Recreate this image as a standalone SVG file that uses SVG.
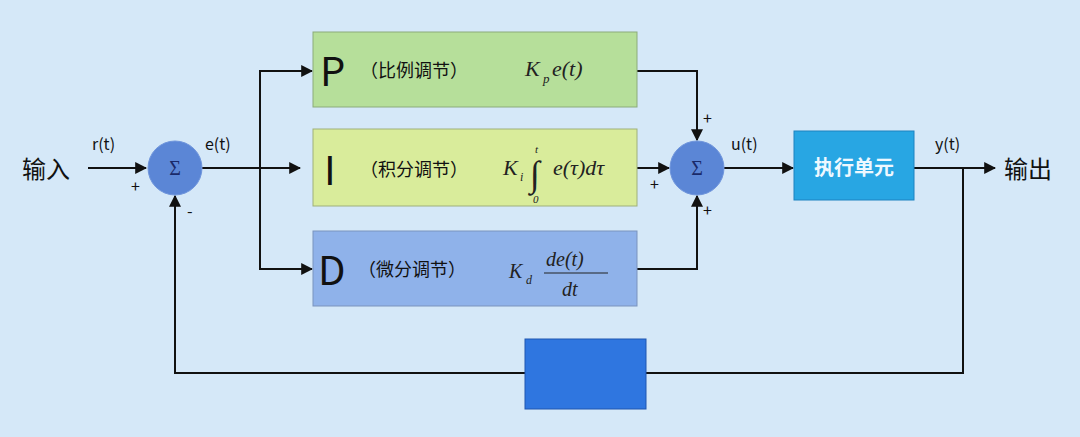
<svg xmlns="http://www.w3.org/2000/svg" width="1080" height="437" viewBox="0 0 1080 437">
<style>
.ln{fill:none;stroke:#111;stroke-width:2}
.t{font-family:"Noto Sans CJK SC","Liberation Sans",sans-serif;fill:#111}
.m{font-family:"Liberation Serif",serif;font-style:italic;fill:#222}
.sum{fill:#5b86d6;stroke:#6f95dc}
.sg{font-family:"Liberation Serif",serif;font-size:20px;fill:#1a2a6a;text-anchor:middle}
</style>
<defs><marker id="a" viewBox="0 0 10 10" refX="9" refY="5" markerWidth="6" markerHeight="6" orient="auto" markerUnits="userSpaceOnUse"><path d="M0,0L10,5L0,10z" fill="#111"/></marker>
<marker id="b" viewBox="0 0 10 10" refX="9" refY="5" markerWidth="12" markerHeight="12" orient="auto" markerUnits="userSpaceOnUse"><path d="M0,0L10,5L0,10z" fill="#111"/></marker></defs>
<rect width="1080" height="437" fill="#d5e8f8"/>
<g id="connectors">
<path class="ln" d="M88,168H146" marker-end="url(#b)"/>
<path class="ln" d="M202,168H300" marker-end="url(#b)"/>
<path class="ln" d="M260,168V71H312" marker-end="url(#b)"/>
<path class="ln" d="M260,168V269H312" marker-end="url(#b)"/>
<path class="ln" d="M637,71H697V140" marker-end="url(#b)"/>
<path class="ln" d="M637,168H669" marker-end="url(#b)"/>
<path class="ln" d="M637,269H697V196" marker-end="url(#b)"/>
<path class="ln" d="M724,168H793" marker-end="url(#b)"/>
<path class="ln" d="M914,168H995" marker-end="url(#b)"/>
<path class="ln" d="M963,168V373H646"/>
<path class="ln" d="M525,373H175V196" marker-end="url(#b)"/>
</g>
<g id="input"><text class="t" x="22" y="178" font-size="24">输入</text></g>
<g id="output"><text class="t" x="1004" y="178" font-size="24">输出</text></g>
<g id="sum1"><circle class="sum" cx="175" cy="168" r="27"/><text class="sg" x="175" y="175">Σ</text></g>
<g id="sum2"><circle class="sum" cx="697" cy="168" r="27"/><text class="sg" x="697" y="175">Σ</text></g>
<g id="labels" class="t" font-size="16">
<text x="92" y="150">r(t)</text><text x="205" y="150">e(t)</text>
<text x="131" y="192">+</text><text x="187" y="217">-</text>
<text x="703" y="124">+</text><text x="650" y="190">+</text><text x="703" y="216">+</text>
<text x="731" y="150">u(t)</text><text x="935" y="150">y(t)</text>
</g>
<g id="P"><rect x="313" y="32" width="324" height="75" fill="#b6df9a" stroke="#8cab7a"/>
<text class="t" x="320" y="86" font-size="40">P</text><text class="t" x="360" y="77" font-size="18">（比例调节）</text>
<text class="m" x="525" y="76" font-size="22">K</text><text class="m" x="543" y="83" font-size="13">p</text><text class="m" x="552" y="76" font-size="22">e(t)</text></g>
<g id="I"><rect x="313" y="129" width="324" height="77" fill="#d9ec9b" stroke="#9fb07a"/>
<text class="t" x="324" y="185" font-size="40">I</text><text class="t" x="360" y="176" font-size="18">（积分调节）</text>
<text class="m" x="503" y="175" font-size="22">K</text><text class="m" x="520" y="181" font-size="12" font-style="normal">i</text>
<text class="m" x="530" y="186" font-size="36" font-style="normal">∫</text>
<text class="m" x="535" y="153" font-size="11" font-style="normal">t</text><text class="m" x="533" y="203" font-size="11" font-style="normal">0</text>
<text class="m" x="553" y="175" font-size="22">e(τ)dτ</text></g>
<g id="D"><rect x="313" y="231" width="324" height="75" fill="#8fb2ea" stroke="#7b93bd"/>
<text class="t" x="318" y="285" font-size="40">D</text><text class="t" x="358" y="276" font-size="18">（微分调节）</text>
<text class="m" x="509" y="278" font-size="20">K</text><text class="m" x="526" y="284" font-size="12">d</text>
<text class="m" x="546" y="266" font-size="20">de(t)</text><line x1="544" y1="273" x2="608" y2="273" stroke="#222" stroke-width="1.2"/><text class="m" x="562" y="296" font-size="20">dt</text></g>
<g id="exec"><rect x="794" y="131" width="120" height="69" fill="#28a6e3" stroke="#1d82c0"/>
<text class="t" x="854" y="175" font-size="20" font-weight="bold" fill="#eef8ff" text-anchor="middle" style="fill:#eef8ff">执行单元</text></g>
<g id="feedback"><rect x="525" y="339" width="121" height="70" fill="#2f76e0" stroke="#2056b0"/></g>
</svg>
